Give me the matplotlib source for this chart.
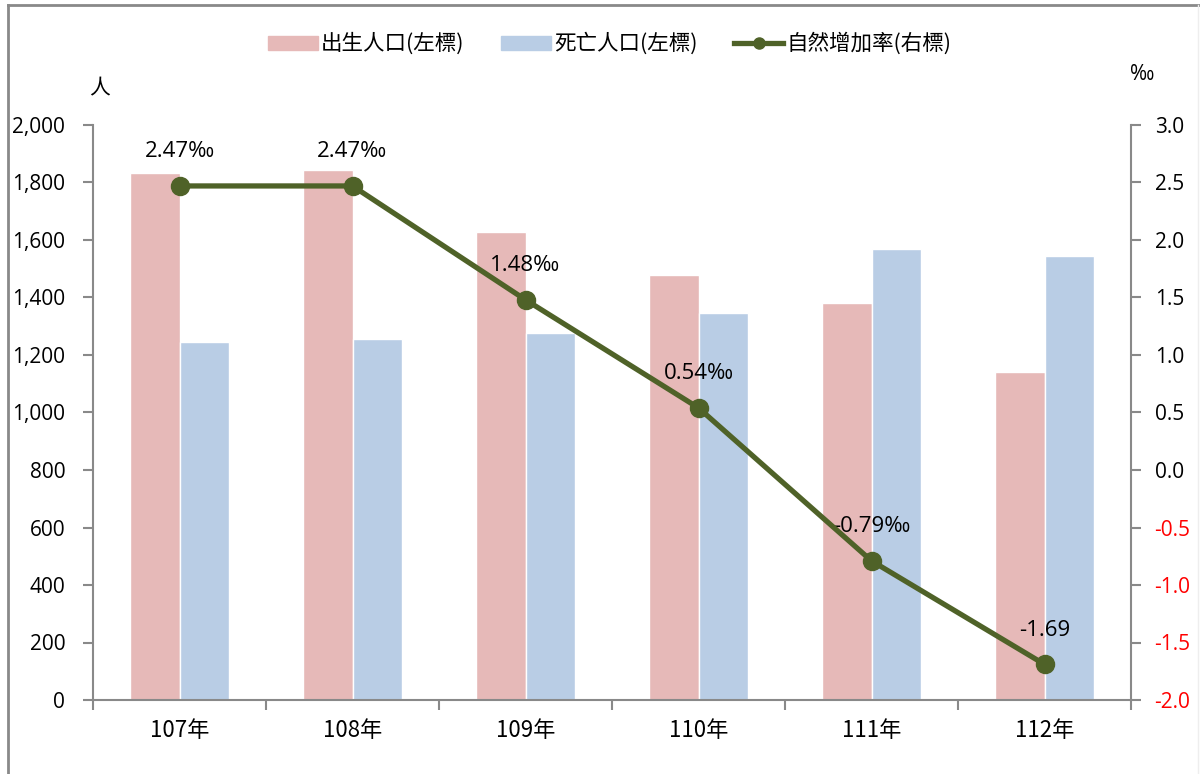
import matplotlib
matplotlib.use("Agg")
import matplotlib.pyplot as plt
from matplotlib.lines import Line2D
from matplotlib.patches import Patch
import numpy as np

plt.rcParams['font.family'] = ['Noto Sans CJK TC', 'DejaVu Sans']
NUM = ['Open Sans', 'DejaVu Sans', 'Noto Sans CJK TC']

years = ['107年', '108年', '109年', '110年', '111年', '112年']
births = [1833, 1843, 1628, 1478, 1381, 1141]
deaths = [1245, 1256, 1277, 1346, 1569, 1544]
rates = [2.47, 2.47, 1.48, 0.54, -0.79, -1.69]
rate_labels = ['2.47‰', '2.47‰', '1.48‰', '0.54‰', '-0.79‰', '-1.69']

pink = '#E6B9B8'
blue = '#B9CDE5'
green = '#4F6228'
gray = '#898989'

fig = plt.figure(figsize=(12, 7.74), dpi=100)
ax = fig.add_axes([93/1200, 1-700/774, (1131-93)/1200, (700-125)/774])
ax2 = ax.twinx()

x = np.arange(len(years))
w = 0.285
ax.bar(x - w/2, births, width=w, color=pink, edgecolor='white', linewidth=1, label='出生人口(左標)', zorder=2)
ax.bar(x + w/2, deaths, width=w, color=blue, edgecolor='white', linewidth=1, label='死亡人口(左標)', zorder=2)

ax.set_xlim(-0.5, len(years) - 0.5)
ax.set_ylim(0, 2000)
ax.set_yticks(np.arange(0, 2001, 200))
ax.set_yticklabels([f'{v:,}' for v in range(0, 2001, 200)], family=NUM, fontsize=15)
ax2.set_ylim(-2.0, 3.0)
r_ticks = np.arange(-2.0, 3.01, 0.5)
ax2.set_yticks(r_ticks)
ax2.set_yticklabels([f'{v:.1f}' for v in r_ticks], family=NUM, fontsize=15)
for lbl, v in zip(ax2.get_yticklabels(), r_ticks):
    lbl.set_color('red' if v < -0.01 else 'black')

ax2.plot(x, rates, color=green, linewidth=3.8, marker='o', markersize=13, label='自然增加率(右標)', zorder=5)
for xi, r, t in zip(x, rates, rate_labels):
    ax2.annotate(t, (xi, r), xytext=(0, 24.5), textcoords='offset points',
                 ha='center', va='center', fontsize=16, color='black', family=NUM)

ax.set_xticks(x)
ax.set_xticklabels(years, fontsize=16)
ax.set_xticks(np.arange(-0.5, len(years), 1), minor=True)
ax.tick_params(axis='x', which='major', length=0, pad=14)
ax.tick_params(axis='x', which='minor', length=7, width=1.5, color=gray, direction='out')
ax.tick_params(axis='y', length=7, width=1.5, color=gray, pad=13)
ax2.tick_params(axis='y', length=7, width=1.5, color=gray, pad=10)

for a in (ax, ax2):
    a.spines['top'].set_visible(False)
    for s in ('left', 'right', 'bottom'):
        a.spines[s].set_color(gray)
        a.spines[s].set_linewidth(1.5)
ax.spines['right'].set_visible(False)
ax2.spines['left'].set_visible(False)
ax2.spines['bottom'].set_visible(False)

fig.text(100/1200, 1-88/774, '人', fontsize=15, ha='center', va='center')
fig.text(1142/1200, 1-75/774, '‰', fontsize=15, ha='center', va='center', family=NUM)

handles = [Patch(color=pink), Patch(color=blue),
           Line2D([0], [0], color=green, linewidth=3.8, marker='o', markersize=8)]
labels = ['出生人口(左標)', '死亡人口(左標)', '自然增加率(右標)']
fig.legend(handles, labels, loc='center', bbox_to_anchor=(610/1200, 1-44/774), ncol=3,
           frameon=False, fontsize=15.5, handlelength=2.3, handleheight=0.6, columnspacing=1.7,
           handletextpad=0.15)

# figure border lines
fig.add_artist(Line2D([8/1200, 8/1200], [0, 1-5/774], transform=fig.transFigure, color=gray, linewidth=2))
fig.add_artist(Line2D([8/1200, 1], [1-5/774, 1-5/774], transform=fig.transFigure, color=gray, linewidth=2))
fig.add_artist(Line2D([1198/1200, 1198/1200], [0, 1-5/774], transform=fig.transFigure, color='#eeeeee', linewidth=1))

fig.savefig('out.png', dpi=100)
